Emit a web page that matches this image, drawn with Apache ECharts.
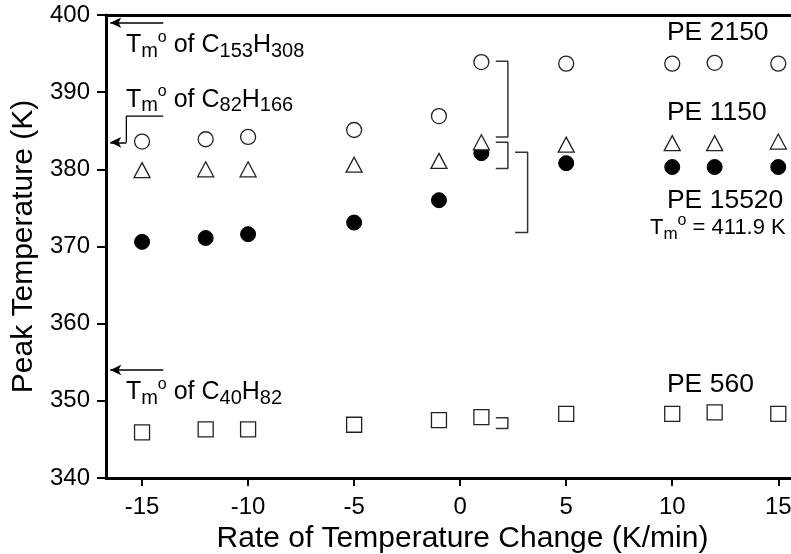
<!DOCTYPE html>
<html lang="en">
<head>
  <meta charset="UTF-8">
  <title>Peak Temperature vs Rate</title>
  <script src="https://cdn.jsdelivr.net/npm/echarts@6/dist/echarts.min.js"></script>
  <style>body{margin:0;background:#fff}</style>
</head>
<body>
  <div id="main" style="width:791px;height:554px;"></div>
  <script type="text/javascript">
    // data
    let rates = [-15, -12, -10, -5, -1, 1, 5, 10, 12, 15];
    let pe2150 = [383.6, 383.9, 384.2, 385.1, 386.9, 393.9, 393.7, 393.7, 393.8, 393.7];
    let pe1150 = [379.9, 380.0, 380.0, 380.6, 381.1, 383.5, 383.2, 383.4, 383.4, 383.6];
    let pe15520 = [370.6, 371.1, 371.6, 373.1, 376.0, 382.1, 380.8, 380.3, 380.3, 380.3];
    let pe560 = [345.9, 346.3, 346.3, 346.9, 347.5, 347.9, 348.3, 348.3, 348.5, 348.3];
    let xTicks = [-15, -10, -5, 0, 5, 10, 15];

    // annotation geometry in data units
    let arrows = [[-14.0, 399.0], [-15.74, 383.5], [-14.0, 354.0]];
    let arrowTip = -16.5;
    let elbow = [[-14.0, 386.9], [-15.74, 386.9], [-15.74, 383.5]];
    let brackets = [
      [[1.68, 394.0], [2.25, 394.0], [2.25, 384.2], [1.68, 384.2]],
      [[1.68, 383.5], [2.25, 383.5], [2.25, 380.1], [1.68, 380.1]],
      [[2.59, 382.2], [3.18, 382.2], [3.18, 371.8], [2.59, 371.8]],
      [[1.68, 347.8], [2.25, 347.8], [2.25, 346.4], [1.68, 346.4]]
    ];

    const font = 'Liberation Sans, Arial, sans-serif';
    const pair = arr => rates.map((r, i) => [r, arr[i]]);
    const edge = '#222';

    let series = [
      { type: 'scatter', data: pair(pe2150), symbol: 'circle', symbolSize: 15,
        itemStyle: { color: '#fff', borderColor: edge, borderWidth: 1.3, opacity: 1 },
        markLine: {
          silent: true, symbol: ['none', 'arrow'], symbolSize: [8, 11],
          label: { show: false },
          lineStyle: { color: '#000', width: 1.5, type: 'solid' },
          data: arrows.map(a => [{ coord: [a[0], a[1]] }, { coord: [arrowTip, a[1]] }])
        } },
      { type: 'scatter', data: pair(pe15520), symbol: 'circle', symbolSize: 15,
        itemStyle: { color: '#000', borderColor: '#000', borderWidth: 1, opacity: 1 } },
      { type: 'scatter', data: pair(pe1150), symbol: 'triangle', symbolSize: [16, 15],
        itemStyle: { color: '#fff', borderColor: edge, borderWidth: 1.3, opacity: 1 } },
      { type: 'scatter', data: pair(pe560), symbol: 'rect', symbolSize: 15,
        itemStyle: { color: '#fff', borderColor: edge, borderWidth: 1.3, opacity: 1 } },
      { type: 'line', data: elbow, symbol: 'none', silent: true,
        lineStyle: { color: '#000', width: 1.3 } }
    ];
    brackets.forEach(b => series.push({ type: 'line', data: b, symbol: 'none', silent: true,
      lineStyle: { color: '#333', width: 1.5 } }));

    let options = {
      animation: false,
      grid: { left: 106, right: 0, top: 15, bottom: 76, containLabel: false, outerBoundsMode: 'none' },
      xAxis: [{
        type: 'value', min: -16.7, max: 15.6,
        name: 'Rate of Temperature Change (K/min)', nameLocation: 'middle', nameGap: 40,
        nameTextStyle: { fontFamily: font, fontSize: 30, color: '#000', padding: [0, 0, 0, 28] },
        axisLine: { onZero: false, lineStyle: { color: '#000', width: 3 } },
        axisTick: { customValues: xTicks, length: 8, lineStyle: { width: 2, color: '#000' } },
        axisLabel: { customValues: xTicks, margin: 17, fontFamily: font, fontSize: 24, color: '#000' },
        splitLine: { show: false }
      }, {
        type: 'value', min: -16.7, max: 15.6, position: 'top',
        axisLine: { show: true, onZero: false, lineStyle: { color: '#000', width: 3 } },
        axisTick: { show: false }, axisLabel: { show: false }, splitLine: { show: false }
      }],
      yAxis: {
        type: 'value', min: 340, max: 400, interval: 10,
        name: 'Peak Temperature (K)', nameLocation: 'middle', nameGap: 63,
        nameTextStyle: { fontFamily: font, fontSize: 30, color: '#000' },
        axisLine: { show: true, onZero: false, lineStyle: { color: '#000', width: 3 } },
        axisTick: { length: 9, lineStyle: { width: 2, color: '#000' } },
        axisLabel: { margin: 16, fontFamily: font, fontSize: 24, color: '#000' },
        splitLine: { show: false }
      },
      series: series
    };

    let myChart = echarts.init(document.getElementById('main'));
    myChart.setOption(options);

    // text annotations, anchored in data units
    const rich = {
      a: { fontFamily: font, fontSize: 25, lineHeight: 32, verticalAlign: 'middle', color: '#000' },
      s: { fontFamily: font, fontSize: 20, lineHeight: 22, verticalAlign: 'bottom', color: '#000' },
      o: { fontFamily: font, fontSize: 16, lineHeight: 8, verticalAlign: 'top', color: '#000' },
      c: { fontFamily: font, fontSize: 22, lineHeight: 30, verticalAlign: 'middle', color: '#000' },
      d: { fontFamily: font, fontSize: 17, lineHeight: 20, verticalAlign: 'bottom', color: '#000' },
      b: { fontFamily: font, fontSize: 26.5, lineHeight: 30, verticalAlign: 'middle', color: '#000' }
    };
    let notes = [
      [-15.76, 396.1, '{a|T}{s|m}{o|o}{a| of C}{s|153}{a|H}{s|308}'],
      [-15.76, 389.0, '{a|T}{s|m}{o|o}{a| of C}{s|82}{a|H}{s|166}'],
      [-15.76, 351.1, '{a|T}{s|m}{o|o}{a| of C}{s|40}{a|H}{s|82}'],
      [9.75, 397.7, '{b|PE 2150}'],
      [9.75, 387.3, '{b|PE 1150}'],
      [9.75, 376.0, '{b|PE 15520}'],
      [8.95, 372.4, '{c|T}{d|m}{o|o}{c| = 411.9 K}'],
      [9.75, 352.1, '{b|PE 560}']
    ];
    let graphic = notes.map(n => {
      let p = myChart.convertToPixel({ seriesIndex: 0 }, [n[0], n[1]]);
      return { type: 'text', x: p[0], y: p[1], silent: true,
        style: { text: n[2], rich: rich, align: 'left', verticalAlign: 'middle' } };
    });
    myChart.setOption({ graphic: graphic });
  </script>
</body>
</html>
